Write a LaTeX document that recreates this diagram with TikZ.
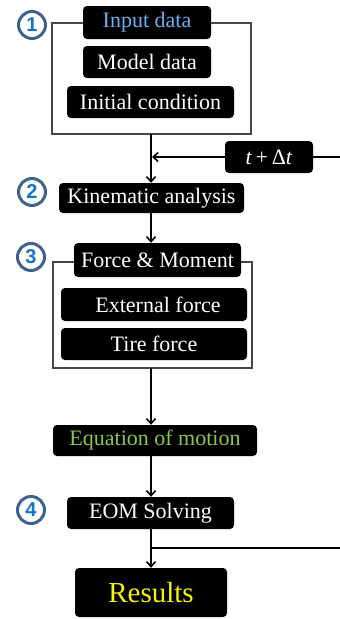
\documentclass[tikz,border=0pt]{standalone}
\usepackage{fontspec}
\setmainfont{Liberation Serif}
\newfontfamily\numfont{Liberation Sans}
\usetikzlibrary{arrows.meta}
\definecolor{ringc}{RGB}{62,98,140}
\definecolor{numc}{RGB}{20,115,200}
\definecolor{inblue}{RGB}{110,175,240}
\definecolor{eqgreen}{RGB}{140,200,75}
\definecolor{resyellow}{RGB}{250,245,0}
\definecolor{framec}{RGB}{70,70,70}
\begin{document}
\begin{tikzpicture}[x=1pt,y=-1pt,
  blk/.style={fill=black,rounded corners=4pt,text=white,inner sep=0pt,
    font=\fontsize{22}{24}\selectfont},
  frame/.style={draw=framec,line width=1.1pt},
  num/.style={circle,draw=ringc,line width=3pt,fill=white,minimum size=27pt,
    inner sep=0pt,text=numc,font=\numfont\bfseries\fontsize{20}{20}\selectfont},
  arr/.style={line width=1.6pt,-{Straight Barb[length=5pt,width=9pt,line width=1.6pt]}},
  ln/.style={line width=1.6pt}]
\useasboundingbox (0,0) rectangle (340,619);
% frames
\draw[frame] (52,23) rectangle (251,134);
\draw[frame] (53,262) rectangle (252,368);
% block 1
\node[blk,minimum width=128pt,minimum height=33pt,text=inblue] (input) at (147,22.5) {Input data};
\node[blk,minimum width=128pt,minimum height=32pt] (model) at (147,62) {Model data};
\node[blk,minimum width=167pt,minimum height=32pt] (init) at (150.5,102) {Initial condition};
\coordinate (f1b) at (151,134);
% time step
\node[blk,minimum width=88pt,minimum height=32pt] (dt) at (269,157) {\textit{t}\,+\,Δ\textit{t}};
\coordinate (rtop) at (340,157);
\coordinate (join) at (151,157);
% kinematic
\node[blk,minimum width=185pt,minimum height=30pt] (kin) at (151.5,198) {Kinematic analysis};
% force
\node[blk,minimum width=167pt,minimum height=34pt] (fm) at (157.5,260) {Force \& Moment};
\node[blk,minimum width=186pt,minimum height=33pt] (ext) at (154,304.5) {\hspace*{8pt}External force};
\node[blk,minimum width=186pt,minimum height=32pt] (tire) at (154,344) {Tire force};
\coordinate (f3b) at (151,368);
% EOM
\node[blk,minimum width=204pt,minimum height=31pt,text=eqgreen] (eq) at (155,440.5) {Equation of motion};
\node[blk,minimum width=167pt,minimum height=32pt] (solve) at (150.5,513) {EOM Solving};
\node[blk,minimum width=152pt,minimum height=49pt,text=resyellow,
  font=\fontsize{29}{31}\selectfont] (res) at (151,592.5) {Results};
\coordinate (br) at (151,548);
\coordinate (rbot) at (340,548);
% numbers
\node[num] (n1) at (32,25) {1};
\node[num] (n2) at (32,192) {2};
\node[num] (n3) at (31,257) {3};
\node[num] (n4) at (31,510) {4};
% connectors
\draw[arr] (f1b) -- (kin.north -| f1b);
\draw[arr] (dt.west) -- ([xshift=1pt]join);
\draw[ln] (dt.east) -- (rtop);
\draw[arr] (kin.south -| f1b) -- (fm.north -| f1b);
\draw[arr] (f3b) -- (eq.north -| f3b);
\draw[arr] (eq.south -| f3b) -- (solve.north -| f3b);
\draw[arr] (solve.south -| f3b) -- (res.north -| f3b);
\draw[line width=1.2pt] (br) -- (rbot);
\end{tikzpicture}
\end{document}
